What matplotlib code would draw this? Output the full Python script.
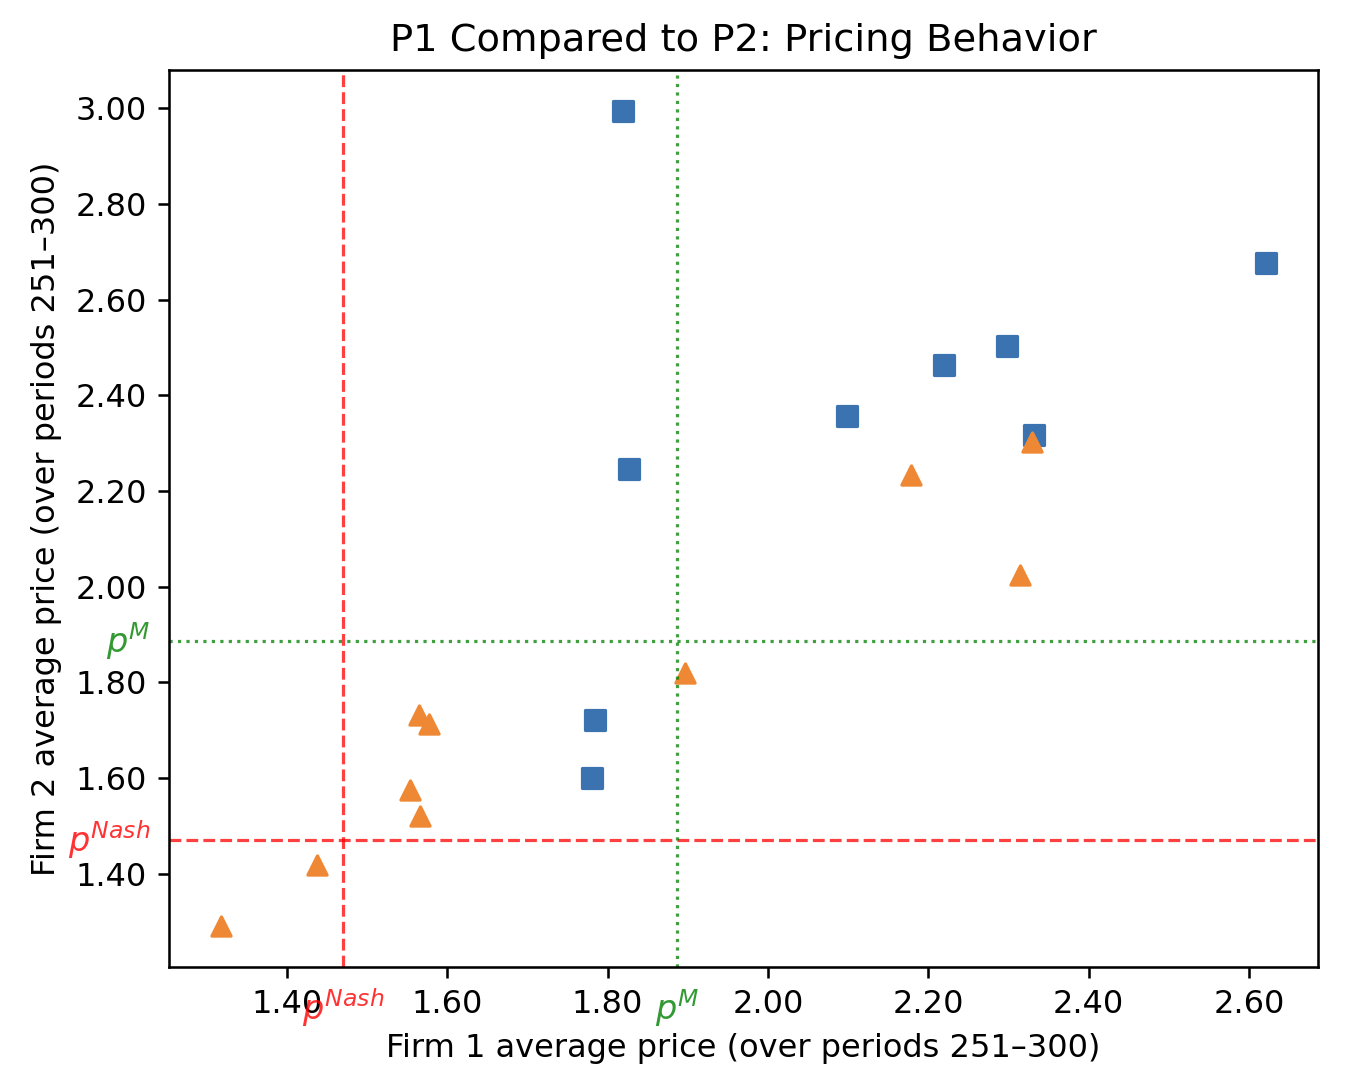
import matplotlib
matplotlib.use("Agg")
import matplotlib.pyplot as plt
import matplotlib.ticker as mticker
import matplotlib.transforms as mtransforms

# Firm average prices (periods 251-300)
p1_firm1 = [1.819, 1.827, 2.621, 2.298, 2.220, 2.098, 2.332, 1.784, 1.781]
p1_firm2 = [2.995, 2.245, 2.677, 2.503, 2.463, 2.356, 2.318, 1.722, 1.599]

p2_firm1 = [2.329, 2.179, 2.315, 1.896, 1.565, 1.577, 1.554, 1.566, 1.437, 1.318]
p2_firm2 = [2.303, 2.234, 2.024, 1.819, 1.731, 1.712, 1.575, 1.521, 1.419, 1.290]

p_nash = 1.470
p_monopoly = 1.887

title = "P1 Compared to P2: Pricing Behavior"
xlabel = "Firm 1 average price (over periods 251\u2013300)"
ylabel = "Firm 2 average price (over periods 251\u2013300)"

DPI = 230
fig = plt.figure(figsize=(1352 / DPI, 1078 / DPI), dpi=DPI)
ax = fig.add_axes([169 / 1352, 1 - 967 / 1078, (1318 - 169) / 1352, (967 - 70) / 1078])

ax.scatter(p1_firm1, p1_firm2, marker="s", color="#3a73b0")
ax.scatter(p2_firm1, p2_firm2, marker="^", color="#ef8834")

red = "red"
green = "green"
ax.axvline(p_nash, color=red, linestyle="--", linewidth=1, alpha=0.75)
ax.axhline(p_nash, color=red, linestyle="--", linewidth=1, alpha=0.75)
ax.axvline(p_monopoly, color=green, linestyle=":", linewidth=1, alpha=0.75)
ax.axhline(p_monopoly, color=green, linestyle=":", linewidth=1, alpha=0.75)

ax.xaxis.set_major_locator(mticker.MultipleLocator(0.2))
ax.yaxis.set_major_locator(mticker.MultipleLocator(0.2))
ax.xaxis.set_major_formatter(mticker.FormatStrFormatter("%.2f"))
ax.yaxis.set_major_formatter(mticker.FormatStrFormatter("%.2f"))
ylo, yhi = ax.get_ylim()
ax.set_ylim(max(ylo, 1.203), yhi)

tx = mtransforms.blended_transform_factory(ax.transData, ax.transAxes)
ty = mtransforms.blended_transform_factory(ax.transAxes, ax.transData)
ax.text(p_nash, -0.022, r"$p^{Nash}$", transform=tx, ha="center", va="top",
        color=red, alpha=0.8, fontsize=10.5)
ax.text(p_monopoly, -0.022, r"$p^{M}$", transform=tx, ha="center", va="top",
        color=green, alpha=0.8, fontsize=10.5)
ax.text(-0.016, p_nash, r"$p^{Nash}$", transform=ty, ha="right", va="center",
        color=red, alpha=0.8, fontsize=10.5)
ax.text(-0.016, p_monopoly, r"$p^{M}$", transform=ty, ha="right", va="center",
        color=green, alpha=0.8, fontsize=10.5)

ax.set_title(title, fontsize=12)
ax.set_xlabel(xlabel)
ax.set_ylabel(ylabel)

fig.savefig("out.png", dpi=DPI)
